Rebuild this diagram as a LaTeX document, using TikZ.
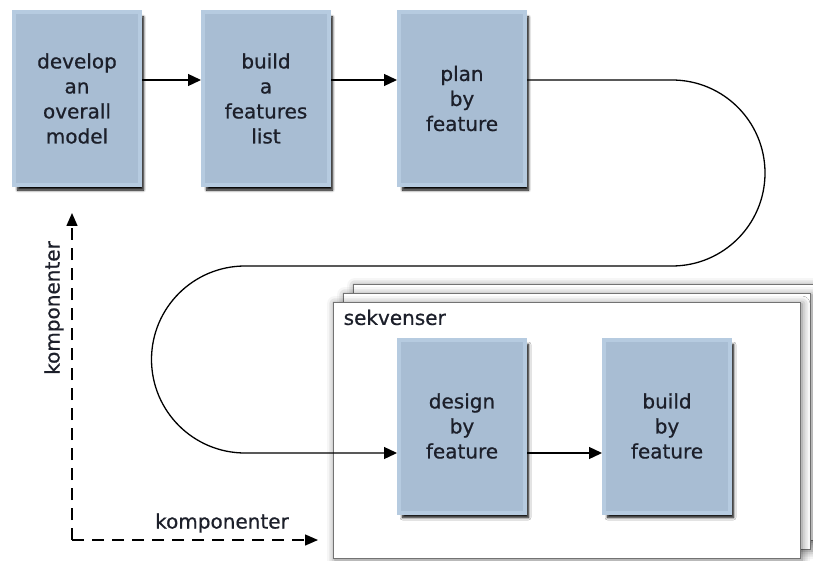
\documentclass[tikz,border=0pt]{standalone}
\usepackage{fontspec}
\setmainfont[FakeBold=0.7]{DejaVu Sans}
\usetikzlibrary{arrows.meta,shadows,shadows.blur}
\definecolor{boxfill}{HTML}{A8BDD3}
\definecolor{boxedge}{HTML}{B6CBE0}
\definecolor{boxtext}{HTML}{1C1F2A}
\begin{document}
\begin{tikzpicture}[x=1pt,y=-1pt,
  stepbox/.style={rectangle, minimum width=126pt, minimum height=173pt, inner sep=0pt,
    fill=boxfill, draw=boxedge, line width=4pt, align=center,
    font=\fontsize{20}{25}\selectfont, text=boxtext,
    blur shadow={shadow xshift=3.5pt, shadow yshift=-5pt, shadow blur steps=6, shadow blur radius=2.5pt, shadow opacity=100}},
  arr/.style={-{Triangle[length=13pt,width=12pt]}, line width=1.3pt},
  frame/.style={rectangle, draw=black!55, fill=white, line width=1pt, minimum width=467pt, minimum height=256pt,
    inner sep=0pt, blur shadow={shadow xshift=2pt, shadow yshift=-2pt, shadow blur radius=8pt, shadow opacity=55}},
  axis/.style={dash pattern=on 12pt off 8pt, line width=1.4pt, -{Triangle[length=13pt,width=11pt]}},
  lbl/.style={font=\fontsize{20}{24}\selectfont, text=boxtext, inner sep=0pt}]
\useasboundingbox (0,0) rectangle (813,561);

% stacked frames
\node[frame] (f3) at (586.5,412) {};
\node[frame] (f2) at (576.5,421) {};
\node[frame] (f1) at (566.5,430) {};
\node[lbl, anchor=north west] (seq) at ([xshift=11pt,yshift=-8pt]f1.north west) {sekvenser};

% top row
\node[stepbox] (b1) at (77,98.5) {develop\\an\\overall\\model};
\node[stepbox] (b2) at (266,98.5) {build\\a\\features\\list};
\node[stepbox] (b3) at (462,98.5) {plan\\by\\feature};

% bottom row
\node[stepbox] (d1) at (462,426) {design\\by\\feature};
\node[stepbox] (d2) at (667,426) {build\\by\\feature};

% arrows
\draw[arr] ([yshift=18.5pt]b1.east) -- ([yshift=18.5pt]b2.west);
\draw[arr] ([yshift=18.5pt]b2.east) -- ([yshift=18.5pt]b3.west);
\draw[arr] ([yshift=-27pt]d1.east) -- ([yshift=-27pt]d2.west);

% loop connector
\coordinate (r1) at (672,80);
\coordinate (l1) at (245,266);
\draw[arr] ([yshift=18.5pt]b3.east) -- (r1)
  arc[start angle=90, end angle=-90, radius=93pt]
  -- (l1)
  arc[start angle=90, end angle=270, radius=93.5pt]
  -- ([yshift=-27pt]d1.west);

% axes
\coordinate (o) at (72,540);
\coordinate (ytip) at (72,213);
\coordinate (xtip) at (318,540);
\draw[axis] (o) -- (ytip);
\draw[axis] (o) -- (xtip);
\node[lbl, rotate=90] (ky) at (54,308) {komponenter};
\node[lbl] (kx) at (222,523) {komponenter};
\end{tikzpicture}
\end{document}
